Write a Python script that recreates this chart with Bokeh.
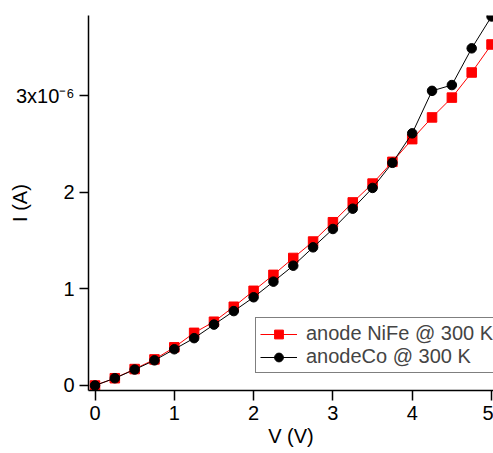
from bokeh.plotting import figure
from bokeh.models import Range1d, FixedTicker, Legend, LegendItem
from bokeh.embed import file_html
from bokeh.resources import INLINE

# Data (current in units of 1e-6 A)
voltage = [0, 0.25, 0.5, 0.75, 1.0, 1.25, 1.5, 1.75, 2.0, 2.25, 2.5,
           2.75, 3.0, 3.25, 3.5, 3.75, 4.0, 4.25, 4.5, 4.75, 5.0]
i_nife = [0, 0.075, 0.17, 0.27, 0.395, 0.545, 0.66, 0.815, 0.98, 1.145, 1.32,
          1.49, 1.69, 1.895, 2.09, 2.315, 2.55, 2.775, 2.98, 3.24, 3.53]
i_co = [0, 0.075, 0.165, 0.26, 0.375, 0.49, 0.63, 0.77, 0.913, 1.075, 1.24,
        1.43, 1.62, 1.83, 2.045, 2.305, 2.61, 3.05, 3.11, 3.49, 3.82]
x_ticks = [0, 1, 2, 3, 4, 5]
y_ticks = [0, 1, 2, 3]
y_tick_labels = {0: "0", 1: "1", 2: "2", 3: "3x10\u207b\u2076"}
series_names = ["anode NiFe @ 300 K", "anodeCo @ 300 K"]

FONT = "Liberation Sans"

p = figure(width=493, height=453, output_backend="svg", toolbar_location=None,
           x_range=Range1d(-0.082, 5.025), y_range=Range1d(-0.052, 3.83),
           min_border_left=88, min_border_right=0, min_border_top=15,
           min_border_bottom=63, x_axis_label="V (V)", y_axis_label="I (A)")
p.outline_line_color = None
p.grid.visible = False
p.background_fill_color = "white"
p.border_fill_color = "white"

for ax in (p.xaxis[0], p.yaxis[0]):
    ax.axis_line_width = 1.5
    ax.axis_line_color = "black"
    ax.major_tick_line_color = "black"
    ax.major_tick_line_width = 1.5
    ax.major_tick_in = 0
    ax.minor_tick_line_color = None
    ax.major_label_text_font = FONT
    ax.major_label_text_font_size = "20px"
    ax.major_label_text_color = "black"
    ax.axis_label_text_font = FONT
    ax.axis_label_text_font_size = "20px"
    ax.axis_label_text_font_style = "normal"
    ax.axis_label_text_color = "black"

p.xaxis[0].major_tick_out = 10
p.yaxis[0].major_tick_out = 9
p.xaxis[0].ticker = FixedTicker(ticks=x_ticks)
p.yaxis[0].ticker = FixedTicker(ticks=y_ticks)
p.yaxis[0].major_label_overrides = y_tick_labels
p.xaxis[0].major_label_standoff = 5
p.yaxis[0].major_label_standoff = 5
p.xaxis[0].axis_label_standoff = 2
p.yaxis[0].axis_label_standoff = -18

r_line = p.line(voltage, i_nife, line_color="#ff0000", line_width=1)
r_sq = p.scatter(voltage, i_nife, marker="square", size=9.5,
                 fill_color="#ff0000", line_color="#ff0000")
k_line = p.line(voltage, i_co, line_color="black", line_width=1)
k_ci = p.scatter(voltage, i_co, marker="circle", size=9.5,
                 fill_color="black", line_color="black")

legend = Legend(items=[LegendItem(label=series_names[0], renderers=[r_line, r_sq]),
                       LegendItem(label=series_names[1], renderers=[k_line, k_ci])],
                location=(167, 17))
legend.label_text_font = FONT
legend.label_text_font_size = "20px"
legend.label_height = 22
legend.glyph_width = 37
legend.glyph_height = 22
legend.label_standoff = 9
legend.padding = 4
legend.spacing = 0
legend.margin = 0
legend.border_line_color = "black"
legend.border_line_width = 1
legend.background_fill_alpha = 1
p.add_layout(legend, "center")

open("out.html", "w").write(file_html(p, INLINE))
